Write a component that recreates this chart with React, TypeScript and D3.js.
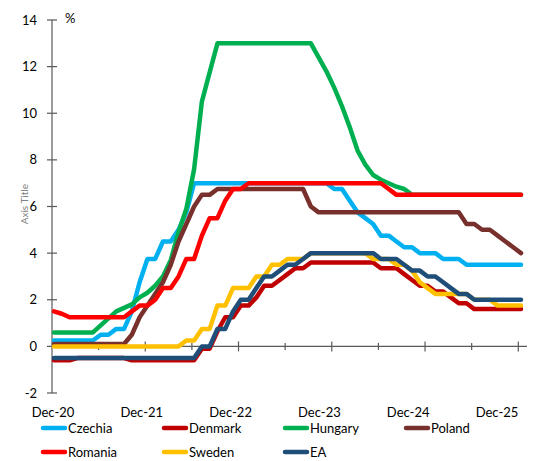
import React from 'react';
import * as d3 from 'd3';

const seriesNames = ['Czechia', 'Denmark', 'Hungary', 'Poland', 'Romania', 'Sweden', 'EA'];
const seriesColors = ['#00B0F0', '#C00000', '#00B050', '#78302D', '#FF0000', '#FFC000', '#1F4E79'];
const xLabels = ['Dec-20', 'Dec-21', 'Dec-22', 'Dec-23', 'Dec-24', 'Dec-25'];
const yTicks = [-2, 0, 2, 4, 6, 8, 10, 12, 14];
const xTickMonths = [6, 12, 18, 24, 30, 36, 42, 48, 54, 60];

// Monthly values, Dec-20 .. Dec-25 (61 points)
const czechia = [
  0.25, 0.25, 0.25, 0.25, 0.25, 0.25,
  0.5, 0.5, 0.75, 0.75, 1.5, 2.75, 3.75, 3.75, 4.5, 4.5, 5.0, 5.75, 7.0,
  7, 7, 7, 7, 7, 7, 7, 7, 7, 7, 7, 7, 7, 7, 7, 7, 7,
  6.75, 6.75, 6.25, 5.75, 5.5, 5.25, 4.75, 4.75, 4.5, 4.25, 4.25, 4.0, 4.0, 4.0, 3.75, 3.75, 3.75, 3.5,
  3.5, 3.5, 3.5, 3.5, 3.5, 3.5, 3.5,
];
const denmark = [
  -0.6, -0.6, -0.6,
  -0.5, -0.5, -0.5, -0.5, -0.5, -0.5, -0.5,
  -0.6, -0.6, -0.6, -0.6, -0.6, -0.6, -0.6, -0.6, -0.6,
  -0.1, -0.1, 0.65, 1.25, 1.25, 1.75, 1.75, 2.1, 2.6, 2.6, 2.85, 3.1, 3.35, 3.35,
  3.6, 3.6, 3.6, 3.6, 3.6, 3.6, 3.6, 3.6, 3.6,
  3.35, 3.35, 3.35, 3.1, 2.85, 2.6, 2.6, 2.35, 2.35, 2.1, 1.85, 1.85,
  1.6, 1.6, 1.6, 1.6, 1.6, 1.6, 1.6,
];
const hungary = [
  0.6, 0.6, 0.6, 0.6, 0.6, 0.6,
  0.9, 1.2, 1.5, 1.65, 1.8, 2.1, 2.3, 2.6, 3.0, 3.7, 4.9, 5.9, 7.6, 10.5, 11.75,
  13, 13, 13, 13, 13, 13, 13, 13, 13, 13, 13, 13, 13,
  12.4, 11.8, 11.1, 10.3, 9.4, 8.4, 7.8, 7.35, 7.15, 7.0, 6.85, 6.75,
  6.5, 6.5, 6.5, 6.5, 6.5, 6.5, 6.5, 6.5, 6.5, 6.5, 6.5, 6.5, 6.5, 6.5, 6.5,
];
const poland = [
  0.1, 0.1, 0.1, 0.1, 0.1, 0.1, 0.1, 0.1, 0.1, 0.1,
  0.5, 1.25, 1.75, 2.25, 2.75, 3.5, 4.5, 5.25, 6.0, 6.5, 6.5,
  6.75, 6.75, 6.75, 6.75, 6.75, 6.75, 6.75, 6.75, 6.75, 6.75, 6.75, 6.75,
  6.0,
  5.75, 5.75, 5.75, 5.75, 5.75, 5.75, 5.75, 5.75, 5.75, 5.75, 5.75, 5.75, 5.75, 5.75, 5.75, 5.75, 5.75, 5.75, 5.75,
  5.25, 5.25, 5.0, 5.0, 4.75, 4.5, 4.25, 4.0,
];
const romania = [
  1.5, 1.4,
  1.25, 1.25, 1.25, 1.25, 1.25, 1.25, 1.25, 1.25,
  1.5, 1.75, 1.75, 2.0, 2.5, 2.5, 3.0, 3.75, 3.75, 4.75, 5.5, 5.5, 6.25, 6.75, 6.75,
  7, 7, 7, 7, 7, 7, 7, 7, 7, 7, 7, 7, 7, 7, 7, 7, 7, 7,
  6.75,
  6.5, 6.5, 6.5, 6.5, 6.5, 6.5, 6.5, 6.5, 6.5, 6.5, 6.5, 6.5, 6.5, 6.5, 6.5, 6.5, 6.5,
];
const sweden = [
  0, 0, 0, 0, 0, 0, 0, 0, 0, 0, 0, 0, 0, 0, 0, 0, 0,
  0.25, 0.25, 0.75, 0.75, 1.75, 1.75, 2.5, 2.5, 2.5, 3.0, 3.0, 3.5, 3.5, 3.75, 3.75, 3.75,
  4, 4, 4, 4, 4, 4, 4, 4,
  3.75, 3.75, 3.75, 3.5, 3.5, 3.25, 2.75, 2.5,
  2.25, 2.25, 2.25, 2.25, 2.25,
  2.0, 2.0, 2.0,
  1.75, 1.75, 1.75, 1.75,
];
const ea = [
  -0.5, -0.5, -0.5, -0.5, -0.5, -0.5, -0.5, -0.5, -0.5, -0.5, -0.5, -0.5, -0.5, -0.5, -0.5, -0.5, -0.5, -0.5, -0.5,
  0.0, 0.0, 0.75, 0.75, 1.5, 2.0, 2.0, 2.5, 3.0, 3.0, 3.25, 3.5, 3.5, 3.75,
  4, 4, 4, 4, 4, 4, 4, 4, 4,
  3.75, 3.75, 3.75, 3.5, 3.25, 3.25, 3.0, 3.0, 2.75, 2.5, 2.25, 2.25,
  2.0, 2.0, 2.0, 2.0, 2.0, 2.0, 2.0,
];

const seriesData = [czechia, denmark, hungary, poland, romania, sweden, ea];

const W = 549;
const H = 461;
const FONT = 'Lato, "Open Sans", sans-serif';
const AXIS = '#595959';

export default function App() {
  const y = d3.scaleLinear().domain([-2, 14]).range([393, 20]);
  const x = d3.scaleLinear().domain([0, 60]).range([54, 521]);
  const xAxis = d3.scaleLinear().domain([0, 60]).range([52, 518.3]);
  const xLab = d3.scalePoint<string>().domain(xLabels).range([53, 497]);
  const line = d3
    .line<number>()
    .x((_, i) => x(i))
    .y((d) => y(d));

  const legendCols = [41, 162, 283, 404];
  const legendRows = [428, 452];

  return (
    <svg
      width={W}
      height={H}
      style={{ position: 'absolute', left: 0, top: 0, background: '#fff' }}
      fontFamily={FONT}
    >
      {/* y axis */}
      <line x1={xAxis(0)} x2={xAxis(0)} y1={y(14)} y2={y(-2)} stroke={AXIS} strokeWidth={1.2} />
      {yTicks.map((t) => (
        <g key={t}>
          <line x1={xAxis(0) - 5} x2={xAxis(0) + 5} y1={y(t)} y2={y(t)} stroke={AXIS} strokeWidth={1.2} />
          <text x={37} y={y(t)} dy="0.35em" textAnchor="end" fontSize={13} fill="#000">
            {t}
          </text>
        </g>
      ))}
      <text x={65} y={y(14)} dy="0.2em" fontSize={13} fill="#000">%</text>
      <text
        transform={`translate(24,${y(6.1)}) rotate(-90)`}
        textAnchor="middle"
        fontSize={10}
        fill="#808080"
        dy="0.35em"
      >
        Axis Title
      </text>

      {/* x axis */}
      <line x1={xAxis(0)} x2={527} y1={y(0)} y2={y(0)} stroke={AXIS} strokeWidth={1.2} />
      {xTickMonths.map((m) => {
        const major = m % 12 === 0;
        const h = major ? 5 : 3.5;
        return (
          <line
            key={m}
            x1={xAxis(m)}
            x2={xAxis(m)}
            y1={y(0) - h}
            y2={y(0) + h}
            stroke={AXIS}
            strokeWidth={1.2}
          />
        );
      })}
      {xLabels.map((l) => (
        <text key={l} x={xLab(l)} y={412} dy="0.35em" textAnchor="middle" fontSize={13} fill="#000">
          {l}
        </text>
      ))}

      {/* series */}
      {seriesData.map((d, k) => (
        <path
          key={seriesNames[k]}
          d={line(d) || ''}
          fill="none"
          stroke={seriesColors[k]}
          strokeWidth={4.5}
          strokeLinejoin="round"
          strokeLinecap="round"
        />
      ))}

      {/* legend */}
      {seriesNames.map((n, k) => {
        const cx = legendCols[k % 4];
        const cy = legendRows[Math.floor(k / 4)];
        return (
          <g key={n}>
            <line x1={cx + 2} x2={cx + 24} y1={cy} y2={cy} stroke={seriesColors[k]} strokeWidth={4.5} strokeLinecap="round" />
            <text x={cx + 27} y={cy} dy="0.35em" fontSize={13} fill="#000">
              {n}
            </text>
          </g>
        );
      })}
    </svg>
  );
}
